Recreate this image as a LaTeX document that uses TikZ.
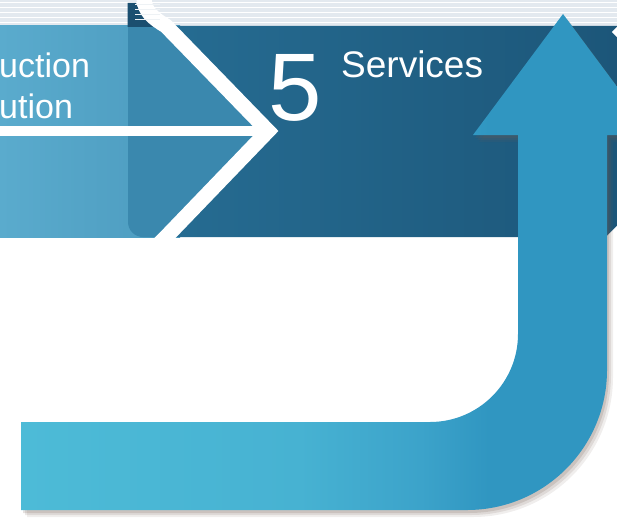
\documentclass[tikz,border=0pt]{standalone}
\usepackage{fontspec}
\setmainfont{Liberation Sans}
\definecolor{topbg}{HTML}{E3E9EF}
\definecolor{lightL}{HTML}{5AABCD}
\definecolor{lightR}{HTML}{4C9BBF}
\definecolor{midblue}{HTML}{3A88AE}
\definecolor{darkL}{HTML}{266C92}
\definecolor{darkR}{HTML}{1C5679}
\definecolor{navy}{HTML}{1B4F70}
\definecolor{aCa}{HTML}{4DBBD7}
\definecolor{aCb}{HTML}{47B2D2}
\definecolor{aCc}{HTML}{3CA3CA}
\definecolor{aCd}{HTML}{3096C1}
\definecolor{shadowc}{HTML}{6E5A50}
\pgfdeclarehorizontalshading{arrowshade}{100bp}{color(0bp)=(aCa); color(25bp)=(aCa); color(47bp)=(aCb); color(56.6bp)=(aCc); color(62bp)=(aCd); color(100bp)=(aCd)}
\tikzset{
  lbl/.style={text=white, inner sep=0pt, anchor=base west},
  stripe/.style={draw=white, line width=17pt, line join=miter}
}
\begin{document}
\begin{tikzpicture}[x=1pt,y=-1pt]
\useasboundingbox (0,0) rectangle (617,519);
% top striped strip
\fill[topbg] (0,0) rectangle (617,27);
\foreach \yy in {2.5,7.5,12.5,17.5,22.5} \draw[white,line width=1.8pt] (0,\yy) -- (617,\yy);
% light left band
\shade[left color=lightL,right color=lightR] (0,26) rectangle (180,237);
% middle rounded panel (up to the chevron)
\fill[midblue] (128,26) -- (128,222) .. controls (128,230.3) and (134.7,237) .. (143,237) -- (166,237) -- (268,131) -- (166,26) -- cycle;
% navy corner above
\fill[navy] (127.5,3) -- (127.5,27) -- (156,27) .. controls (146,20) and (139,12) .. (136,3) -- cycle;
% dark band
\shade[left color=darkL,right color=darkR] (166,26) -- (268,131) -- (166,237) -- (617,237) -- (617,26) -- cycle;
\fill[navy] (630,26) -- (735,131) -- (630,237) -- (760,237) -- (760,26) -- cycle;
% white horizontal bar
\fill[white] (0,126) rectangle (262,136);
% chevron stripes
\begin{scope}
\clip (0,0) rectangle (617,237);
\draw[stripe, line width=15pt] (144,-1) .. controls (145,12) and (153,18) .. (166,26) -- (268,131) -- (166,237) -- (150,253);
\draw[stripe] (618,26) -- (720,131) -- (618,237) -- (602,253);
\end{scope}
\foreach \yy in {2.5,7.5,12.5,17.5} \draw[topbg!60!white,line width=0.8pt] (135,\yy+1.5) -- (160,\yy+1.5);
% texts
\node[lbl, font=\fontsize{34}{40}\selectfont] (prod) at (-1,77) {uction};
\node[lbl, font=\fontsize{34}{40}\selectfont] (dist) at (-1,118) {ution};
\node[lbl, font=\fontsize{96}{96}\selectfont] (num) at (268,120) {5};
\node[lbl, font=\fontsize{37}{40}\selectfont] (serv) at (341,77) {Services};
% arrow shadow
\foreach \dx/\dy/\op in {6/7/0.10,4/5/0.14,2/3/0.18} {
\fill[shadowc, opacity=\op, shift={(\dx,\dy)}] (21,422) -- (430,422) .. controls (478.6,422) and (518,382.6) .. (518,334) -- (518,135) -- (473,135) -- (563,14) -- (653,135) -- (607,135) -- (607,370) .. controls (607,447.3) and (544.3,510) .. (467,510) -- (21,510) -- cycle;
}
% arrow
\shade[shading=arrowshade] (21,422) -- (430,422) .. controls (478.6,422) and (518,382.6) .. (518,334) -- (518,135) -- (473,135) -- (563,14) -- (653,135) -- (607,135) -- (607,370) .. controls (607,447.3) and (544.3,510) .. (467,510) -- (21,510) -- cycle;
\end{tikzpicture}
\end{document}
